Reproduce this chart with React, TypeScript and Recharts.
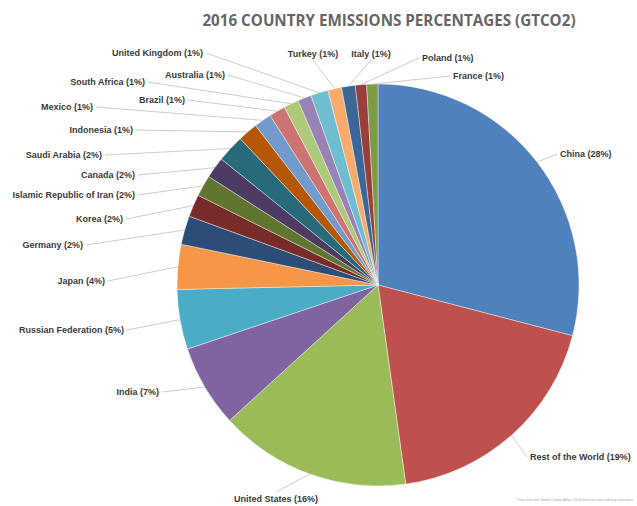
import React from 'react';
import { PieChart, Pie, Cell } from 'recharts';

// slices in clockwise order starting at 12 o'clock
const countries = [
  'China',
  'Rest of the World',
  'United States',
  'India',
  'Russian Federation',
  'Japan',
  'Germany',
  'Korea',
  'Islamic Republic of Iran',
  'Canada',
  'Saudi Arabia',
  'Indonesia',
  'Mexico',
  'Brazil',
  'South Africa',
  'Australia',
  'United Kingdom',
  'Turkey',
  'Italy',
  'Poland',
  'France',
];

// share of emissions as drawn (%)
const shares = [
  29.0, 18.7, 15.4, 6.6, 4.8, 3.6, 2.3, 1.8, 1.7, 1.7, 2.2,
  1.6, 1.4, 1.3, 1.2, 1.1, 1.4, 1.1, 1.1, 0.9, 0.9,
];

// percentages as printed on the labels
const printedPct = [28, 19, 16, 7, 5, 4, 2, 2, 2, 2, 2, 1, 1, 1, 1, 1, 1, 1, 1, 1, 1];

const data = countries.map((name, i) => ({ name, value: shares[i], pct: printedPct[i] }));

// Excel 2010 series palette
const COLORS = [
  '#4F81BD', '#C0504D', '#9BBB59', '#8064A2', '#4BACC6', '#F79646',
  '#2C4D75', '#772C2A', '#5F7530', '#4D3B62', '#276A7C', '#B65708',
  '#729ACA', '#CD7371', '#AFC97A', '#9983B5', '#6FBDD1', '#F9AB6B',
  '#3A6796', '#9A3D3B', '#7D9A46',
];

// label text anchor, offset from the pie centre (manual Excel layout)
const LABEL_LAYOUT: [number, number, 'start' | 'middle' | 'end'][] = [
  [182, -131, 'start'],
  [152, 172, 'start'],
  [-102, 214, 'middle'],
  [-219, 107, 'end'],
  [-254, 45, 'end'],
  [-273, -4, 'end'],
  [-295, -40, 'end'],
  [-255, -66, 'end'],
  [-243, -90, 'end'],
  [-243, -110, 'end'],
  [-276, -130, 'end'],
  [-245, -155, 'end'],
  [-285, -178, 'end'],
  [-193, -185, 'end'],
  [-233, -203, 'end'],
  [-153, -210, 'end'],
  [-175, -232, 'end'],
  [-65, -231, 'middle'],
  [-7, -231, 'middle'],
  [44, -227, 'start'],
  [75, -209, 'start'],
];

const RAD = Math.PI / 180;

function SliceLabel(props: any) {
  const { cx, cy, midAngle, outerRadius, index } = props;
  const [dx, dy, anchor] = LABEL_LAYOUT[index];
  const lx = cx + dx;
  const ly = cy + dy;
  const ex = cx + outerRadius * Math.cos(-midAngle * RAD);
  const ey = cy + outerRadius * Math.sin(-midAngle * RAD);
  let ax = lx;
  let ay = ly;
  if (anchor === 'end') ax = lx + 3;
  else if (anchor === 'start') ax = lx - 3;
  else ay = dy < 0 ? ly + 6 : ly - 7;
  return (
    <g>
      <line x1={ax} y1={ay} x2={ex} y2={ey} stroke="#bfbfbf" strokeWidth={0.8} />
      <text
        x={lx}
        y={ly}
        textAnchor={anchor}
        dominantBaseline="central"
        fontSize={9}
        fontWeight="bold"
        fill="#3a3a3a"
        fontFamily="Liberation Sans, Arial, sans-serif"
      >
        {`${data[index].name} (${data[index].pct}%)`}
      </text>
    </g>
  );
}

export default function App() {
  return (
    <div style={{ position: 'absolute', left: 0, top: 0, width: 637, height: 506, background: '#fff' }}>
      <PieChart width={637} height={506} margin={{ top: 0, right: 0, bottom: 0, left: 0 }}>
        <text
          x={389}
          y={20}
          textAnchor="middle"
          dominantBaseline="central"
          fontSize={15.2}
          fontWeight="bold"
          fill="#666666"
          fontFamily="Open Sans, sans-serif"
        >
          2016 COUNTRY EMISSIONS PERCENTAGES (GTCO2)
        </text>
        <Pie
          data={data}
          dataKey="value"
          nameKey="name"
          cx={378}
          cy={285}
          outerRadius={201}
          startAngle={90}
          endAngle={-270}
          stroke="#ffffff"
          strokeWidth={0.4}
          label={SliceLabel}
          labelLine={false}
          isAnimationActive={false}
        >
          {data.map((d, i) => (
            <Cell key={d.name} fill={COLORS[i]} />
          ))}
        </Pie>
        <text x={633} y={501} textAnchor="end" fontSize={3.5} fill="#a6a6a6" fontFamily="Liberation Sans, Arial, sans-serif">
          * Data from the Global Carbon Atlas, 2016 fossil fuel and industry emissions
        </text>
      </PieChart>
    </div>
  );
}
